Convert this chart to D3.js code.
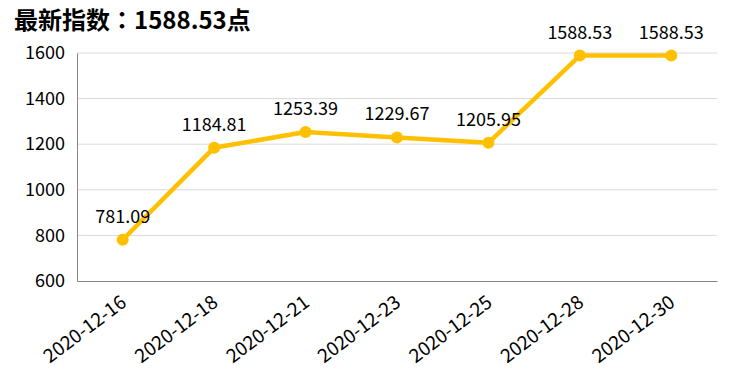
<!DOCTYPE html>
<html>
<head>
<meta charset="utf-8">
<script src="https://cdn.jsdelivr.net/npm/d3@7"></script>
<style>
  body { margin: 0; background: #fff; }
  text { font-family: "Noto Sans CJK SC", "Open Sans", sans-serif; fill: #000; }
</style>
</head>
<body>
<div id="chart"></div>
<script>
// data
const dates = ["2020-12-16", "2020-12-18", "2020-12-21", "2020-12-23", "2020-12-25", "2020-12-28", "2020-12-30"];
const values = [781.09, 1184.81, 1253.39, 1229.67, 1205.95, 1588.53, 1588.53];
const yTicks = [600, 800, 1000, 1200, 1400, 1600];
const titleParts = ["最新指数", "：", "1588.53点"];

const W = 749, H = 382;
const margin = {top: 53, right: 32, bottom: 101, left: 77},
    width = W - margin.left - margin.right,
    height = H - margin.top - margin.bottom;

const svg = d3.select("#chart")
    .append("svg")
    .attr("width", W)
    .attr("height", H);

const title = svg.append("text")
    .attr("x", 14)
    .attr("y", 29)
    .style("font-size", "24px")
    .style("font-weight", "bold");
title.append("tspan").text(titleParts[0]);
// centred full-width colon
title.append("tspan").style("font-family", "\"Noto Sans CJK TC\", sans-serif").text(titleParts[1]);
title.append("tspan").text(titleParts[2]);

const g = svg.append("g")
    .attr("transform", `translate(${margin.left}, ${margin.top})`);

const x = d3.scaleBand()
    .domain(dates)
    .range([0, width]);

const y = d3.scaleLinear()
    .domain([600, 1600])
    .range([height, 0]);

// gridlines
g.append("g")
    .selectAll("line")
    .data(yTicks.slice(1))
    .enter()
    .append("line")
    .attr("x1", 0)
    .attr("x2", width)
    .attr("y1", d => y(d))
    .attr("y2", d => y(d))
    .attr("stroke", "#d9d9d9")
    .attr("stroke-width", 1);

// Y axis
const yAxis = g.append("g")
    .call(d3.axisLeft(y).tickValues(yTicks).tickFormat(d3.format("d")).tickSize(0).tickPadding(12));
yAxis.select(".domain").attr("stroke", "#868686");
yAxis.selectAll("text")
    .style("font-size", "18px")
    .style("font-family", "\"Noto Sans CJK SC\", sans-serif");

// X axis
const xAxis = g.append("g")
    .attr("transform", `translate(0, ${height})`)
    .call(d3.axisBottom(x).tickSize(0).tickPadding(0));
xAxis.select(".domain").attr("stroke", "#868686");
xAxis.selectAll("text")
    .style("font-size", "19px")
    .style("font-family", "\"Noto Sans CJK SC\", sans-serif")
    .style("text-anchor", "end")
    .attr("dy", null)
    .attr("y", 0)
    .attr("transform", "translate(5, 24) rotate(-37)");

// line
const line = d3.line()
    .x(d => x(d.date) + x.bandwidth() / 2)
    .y(d => y(d.value));

const data = dates.map((d, i) => ({date: d, value: values[i]}));

g.append("path")
    .datum(data)
    .attr("fill", "none")
    .attr("stroke", "#FFC000")
    .attr("stroke-width", 4.5)
    .attr("stroke-linejoin", "round")
    .attr("d", line);

g.append("g")
    .selectAll("circle")
    .data(data)
    .enter()
    .append("circle")
    .attr("cx", d => x(d.date) + x.bandwidth() / 2)
    .attr("cy", d => y(d.value))
    .attr("r", 6)
    .attr("fill", "#FFC000");

g.append("g")
    .selectAll("text")
    .data(data)
    .enter()
    .append("text")
    .attr("x", d => x(d.date) + x.bandwidth() / 2)
    .attr("y", d => y(d.value) - 17)
    .attr("text-anchor", "middle")
    .style("font-size", "18px")
    .text(d => d.value.toFixed(2));
</script>
</body>
</html>
